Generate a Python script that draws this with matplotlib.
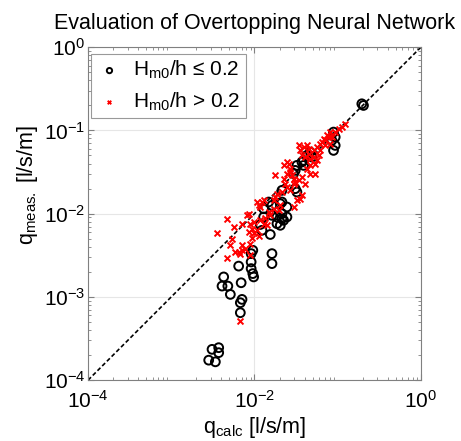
import numpy as np
import matplotlib
matplotlib.use("Agg")
import matplotlib.pyplot as plt

plt.rcParams['font.family'] = ['Liberation Sans', 'DejaVu Sans']
plt.rcParams['mathtext.fontset'] = 'custom'
plt.rcParams['mathtext.rm'] = 'Liberation Sans'
plt.rcParams['mathtext.it'] = 'Liberation Sans'
plt.rcParams['mathtext.default'] = 'rm'

# log10 values (q_calc, q_meas)
low_calc = [-0.71, -0.69, -1.05, -1.03, -1.07, -1.03, -1.05, -1.33, -1.31, -1.37,
            -1.41, -1.49, -1.43, -1.41, -1.53, -1.51, -1.67, -1.51, -1.49, -1.67,
            -1.83, -1.79, -1.89, -1.73, -1.67, -1.79, -1.89, -1.61, -1.69, -1.65,
            -1.69, -1.73, -1.93, -1.91, -1.81, -2.04, -2.02, -2.04, -2.04, -2.02,
            -1.79, -1.79, -2.19, -2.37, -2.39, -2.32, -2.29, -2.16, -2.01, -2.15,
            -2.17, -2.17, -2.51, -2.43, -2.43, -2.55, -2.47, -1.61, -1.67]
low_meas = [-0.68, -0.70, -1.02, -1.08, -1.12, -1.18, -1.24, -1.26, -1.32, -1.30,
            -1.36, -1.42, -1.38, -1.42, -1.52, -1.48, -1.72, -1.70, -1.74, -1.86,
            -1.86, -1.90, -1.94, -2.04, -2.06, -2.02, -2.04, -1.92, -1.88, -2.08,
            -2.14, -2.12, -2.13, -2.20, -2.25, -2.48, -2.44, -2.58, -2.66, -2.72,
            -2.48, -2.60, -2.63, -2.76, -2.87, -2.87, -2.97, -2.83, -2.76, -3.03,
            -3.07, -3.19, -3.63, -3.61, -3.67, -3.76, -3.78, -2.04, -2.00]

high_calc = [-0.91, -0.99, -1.03, -1.09, -1.13, -1.11, -1.07, -1.15, -1.09, -1.15,
             -1.21, -1.25, -1.29, -1.21, -1.47, -1.41, -1.45, -1.35, -1.29, -1.23,
             -1.25, -1.65, -1.61, -1.57, -1.33, -1.37, -1.37, -1.43, -1.39, -1.33,
             -1.57, -1.61, -1.55, -1.65, -1.75, -1.53, -1.47, -1.43, -1.39, -1.33,
             -1.27, -1.61, -1.57, -1.63, -1.45, -1.49, -1.43, -1.73, -1.75, -1.97,
             -1.95, -1.89, -1.71, -1.69, -1.53, -2.07, -2.33, -1.83, -1.77, -2.45,
             -2.15, -2.05, -2.03, -2.07, -2.01, -1.93, -1.89, -1.85, -1.87, -1.81,
             -2.27, -2.29, -2.15, -2.15, -2.19, -2.23, -2.11, -2.17, -2.05, -2.03,
             -1.95, -1.97, -2.33, -2.05, -1.91, -2.17, -1.53, -1.67, -1.77, -1.93,
             -2.09, -2.01, -1.19, -1.17, -0.95, -1.51, -1.59, -1.35, -1.27, -2.25]
high_meas = [-0.92, -0.98, -1.02, -1.02, -1.06, -1.08, -1.08, -1.12, -1.16, -1.18,
             -1.16, -1.20, -1.24, -1.24, -1.18, -1.20, -1.24, -1.22, -1.32, -1.30,
             -1.36, -1.42, -1.38, -1.46, -1.42, -1.46, -1.18, -1.30, -1.32, -1.34,
             -1.50, -1.52, -1.54, -1.58, -1.54, -1.58, -1.60, -1.56, -1.64, -1.52,
             -1.52, -1.68, -1.72, -1.64, -1.82, -1.84, -1.78, -1.76, -1.80, -1.86,
             -1.90, -1.84, -1.96, -1.90, -1.92, -2.01, -2.06, -1.98, -1.94, -2.23,
             -2.13, -2.13, -2.18, -2.22, -2.23, -2.08, -2.12, -2.14, -2.05, -2.02,
             -2.30, -2.38, -2.38, -2.44, -2.46, -2.46, -2.42, -2.48, -2.36, -2.29,
             -2.27, -2.20, -2.53, -2.50, -1.86, -3.29, -1.64, -1.74, -1.84, -1.92,
             -2.02, -2.10, -1.14, -1.10, -0.96, -1.62, -1.40, -1.28, -1.40, -2.16]

fig = plt.figure(figsize=(4.61, 4.41), dpi=100)
ax = fig.add_axes([0.191, 0.138, 0.722, 0.755])

ax.plot([1e-4, 1], [1e-4, 1], color='black', linestyle=(0, (2.5, 1.5)), linewidth=1.2, zorder=2)
ax.scatter(10 ** np.array(low_calc), 10 ** np.array(low_meas), s=40, facecolors='none',
           edgecolors='black', linewidths=1.4, label=r'H$_{\mathrm{m0}}$/h ≤ 0.2', zorder=3)
ax.scatter(10 ** np.array(high_calc), 10 ** np.array(high_meas), s=18, marker='x',
           color='red', linewidths=1.4, label=r'H$_{\mathrm{m0}}$/h > 0.2', zorder=4)

ax.set_xscale('log')
ax.set_yscale('log')
ax.set_xlim(1e-4, 1)
ax.set_ylim(1e-4, 1)
ax.set_xticks([1e-4, 1e-2, 1])
ax.set_yticks([1e-4, 1e-3, 1e-2, 1e-1, 1])
ax.grid(True, which='major', color='#e6e6e6', linewidth=0.8, zorder=0)
ax.set_axisbelow(True)
ax.tick_params(which='both', direction='in', top=True, right=True, labelsize=15,
               color='#808080')
ax.tick_params(axis='x', which='both', pad=7)
ax.tick_params(axis='y', which='both', pad=2)
ax.tick_params(which='major', length=4)
ax.tick_params(which='minor', length=2)
for sp in ax.spines.values():
    sp.set_color('#808080')

ax.set_title('Evaluation of Overtopping Neural Network', fontsize=15.5, pad=13)
ax.set_xlabel(r'q$_{\mathrm{calc}}$ [l/s/m]', fontsize=15.5, labelpad=2)
ax.set_ylabel(r'q$_{\mathrm{meas.}}$ [l/s/m]', fontsize=15.5)
ax.yaxis.set_label_coords(-0.145, 0.585)

leg = ax.legend(loc='upper left', bbox_to_anchor=(0.008, 0.98), fontsize=15,
                frameon=True, fancybox=False, edgecolor='#808080',
                handletextpad=0.5, borderpad=0.25, labelspacing=0.45,
                handlelength=1.3, borderaxespad=0.0, markerscale=0.6)
leg.get_frame().set_linewidth(0.8)

fig.savefig('out.png', dpi=100)
